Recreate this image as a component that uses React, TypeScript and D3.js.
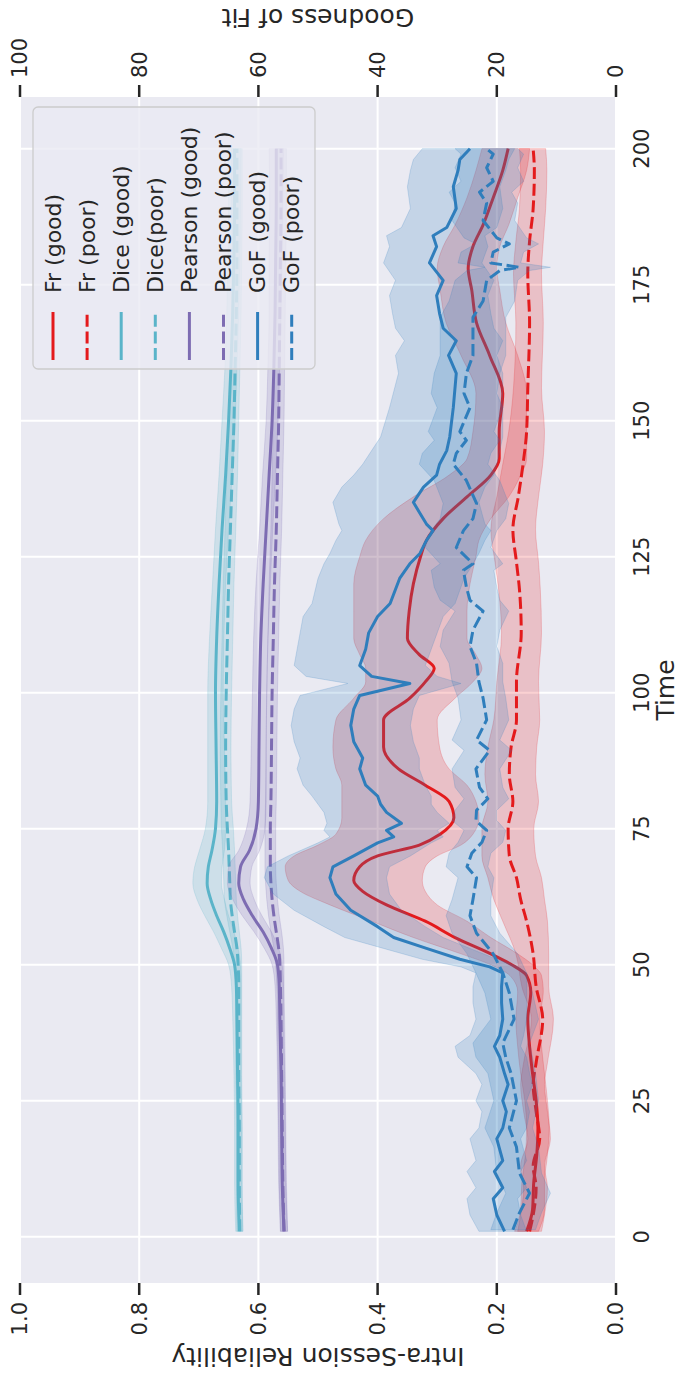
import React, { useEffect } from 'react'
import * as d3 from 'd3'

// values (time -> reliability, 0..1)

// Fr
const frGoodT = [1, 5, 10, 15, 20, 25, 30, 35, 40, 45, 48, 50, 52, 55, 58, 61, 63.5, 65.5, 68, 70, 72, 74, 77, 80, 83, 86, 90, 95, 99, 102, 104.5, 107, 110, 115, 120, 125, 128, 132, 136, 140, 143, 148, 155, 162, 168, 174, 178, 182, 186, 191, 196, 200]
const frGood = [0.150, 0.140, 0.138, 0.133, 0.131, 0.134, 0.140, 0.145, 0.148, 0.143, 0.150, 0.175, 0.210, 0.270, 0.320, 0.385, 0.425, 0.440, 0.430, 0.400, 0.330, 0.295, 0.272, 0.280, 0.320, 0.365, 0.390, 0.390, 0.346, 0.320, 0.305, 0.330, 0.350, 0.347, 0.340, 0.328, 0.318, 0.290, 0.250, 0.210, 0.196, 0.196, 0.190, 0.212, 0.234, 0.242, 0.248, 0.240, 0.223, 0.206, 0.190, 0.181]
const frGoodLo = [0.13, 0.12, 0.12, 0.115, 0.112, 0.115, 0.12, 0.125, 0.128, 0.122, 0.125, 0.14, 0.165, 0.21, 0.25, 0.30, 0.32, 0.325, 0.32, 0.30, 0.26, 0.24, 0.23, 0.235, 0.25, 0.28, 0.296, 0.30, 0.27, 0.24, 0.225, 0.235, 0.25, 0.25, 0.245, 0.235, 0.23, 0.21, 0.18, 0.16, 0.15, 0.15, 0.15, 0.165, 0.185, 0.195, 0.2, 0.195, 0.18, 0.165, 0.15, 0.145]
const frGoodHi = [0.17, 0.16, 0.158, 0.152, 0.15, 0.153, 0.16, 0.165, 0.168, 0.165, 0.178, 0.21, 0.26, 0.34, 0.41, 0.48, 0.53, 0.55, 0.555, 0.54, 0.50, 0.47, 0.46, 0.46, 0.46, 0.47, 0.475, 0.47, 0.44, 0.42, 0.42, 0.43, 0.44, 0.44, 0.44, 0.43, 0.42, 0.39, 0.34, 0.28, 0.25, 0.24, 0.235, 0.26, 0.285, 0.295, 0.3, 0.29, 0.27, 0.25, 0.235, 0.225]

const frPoorT = [1, 4, 9, 13, 18, 23, 28, 32, 40, 46, 52, 58, 62, 66, 70, 75, 80, 85, 90, 95, 102, 111, 119, 124, 130, 136, 142, 148, 156, 168, 177, 183, 189, 196, 200]
const frPoor = [0.145, 0.139, 0.134, 0.139, 0.128, 0.134, 0.139, 0.134, 0.123, 0.134, 0.139, 0.150, 0.160, 0.167, 0.179, 0.181, 0.173, 0.179, 0.176, 0.167, 0.167, 0.159, 0.162, 0.167, 0.173, 0.164, 0.156, 0.150, 0.148, 0.145, 0.148, 0.145, 0.139, 0.137, 0.139]
const frPoorLo = [0.125, 0.12, 0.115, 0.12, 0.11, 0.115, 0.12, 0.115, 0.105, 0.113, 0.113, 0.115, 0.12, 0.125, 0.135, 0.138, 0.13, 0.135, 0.133, 0.128, 0.13, 0.125, 0.127, 0.13, 0.135, 0.13, 0.123, 0.12, 0.125, 0.122, 0.125, 0.122, 0.118, 0.116, 0.118]
const frPoorHi = [0.165, 0.16, 0.155, 0.16, 0.148, 0.155, 0.16, 0.155, 0.142, 0.158, 0.168, 0.19, 0.205, 0.215, 0.225, 0.225, 0.215, 0.22, 0.215, 0.205, 0.2, 0.192, 0.197, 0.203, 0.21, 0.2, 0.19, 0.18, 0.172, 0.168, 0.172, 0.168, 0.162, 0.16, 0.162]

// Dice / Pearson share a time grid
const dpT = [1, 10, 20, 30, 40, 46, 50, 53, 56, 59, 62, 65, 68, 71, 75, 80, 90, 100, 110, 120, 130, 140, 150, 160, 170, 180, 190, 200]
const diceGood = [0.632, 0.634, 0.634, 0.635, 0.636, 0.637, 0.640, 0.648, 0.658, 0.670, 0.680, 0.686, 0.684, 0.678, 0.672, 0.670, 0.671, 0.672, 0.670, 0.666, 0.661, 0.655, 0.650, 0.646, 0.643, 0.641, 0.640, 0.640]
const diceGoodLo = [0.626, 0.628, 0.628, 0.629, 0.629, 0.629, 0.630, 0.634, 0.641, 0.650, 0.657, 0.662, 0.661, 0.657, 0.655, 0.655, 0.657, 0.659, 0.658, 0.655, 0.650, 0.644, 0.639, 0.636, 0.633, 0.631, 0.630, 0.629]
const diceGoodHi = [0.638, 0.640, 0.640, 0.641, 0.643, 0.645, 0.650, 0.662, 0.675, 0.690, 0.703, 0.710, 0.707, 0.699, 0.689, 0.685, 0.685, 0.685, 0.682, 0.677, 0.672, 0.666, 0.661, 0.656, 0.653, 0.651, 0.650, 0.651]
const dicePoor = [0.631, 0.632, 0.632, 0.633, 0.633, 0.633, 0.634, 0.636, 0.640, 0.644, 0.647, 0.648, 0.649, 0.650, 0.652, 0.654, 0.655, 0.654, 0.652, 0.650, 0.647, 0.644, 0.641, 0.639, 0.637, 0.636, 0.636, 0.636]
const dicePoorLo = [0.626, 0.627, 0.627, 0.628, 0.628, 0.628, 0.628, 0.629, 0.632, 0.635, 0.637, 0.638, 0.639, 0.640, 0.642, 0.645, 0.646, 0.645, 0.643, 0.641, 0.638, 0.635, 0.633, 0.631, 0.629, 0.628, 0.627, 0.627]
const dicePoorHi = [0.636, 0.637, 0.637, 0.638, 0.638, 0.638, 0.640, 0.643, 0.648, 0.653, 0.657, 0.658, 0.659, 0.660, 0.662, 0.663, 0.664, 0.663, 0.661, 0.659, 0.656, 0.653, 0.650, 0.647, 0.645, 0.644, 0.645, 0.645]
const pearsonGood = [0.557, 0.560, 0.561, 0.562, 0.564, 0.565, 0.568, 0.578, 0.592, 0.610, 0.625, 0.633, 0.630, 0.615, 0.604, 0.600, 0.599, 0.598, 0.596, 0.592, 0.587, 0.582, 0.577, 0.574, 0.572, 0.571, 0.570, 0.570]
const pearsonGoodLo = [0.551, 0.554, 0.555, 0.556, 0.558, 0.558, 0.560, 0.566, 0.578, 0.594, 0.607, 0.614, 0.611, 0.598, 0.589, 0.587, 0.587, 0.586, 0.584, 0.580, 0.576, 0.571, 0.567, 0.564, 0.562, 0.560, 0.559, 0.558]
const pearsonGoodHi = [0.563, 0.566, 0.567, 0.568, 0.570, 0.572, 0.577, 0.590, 0.607, 0.627, 0.643, 0.652, 0.650, 0.633, 0.620, 0.614, 0.612, 0.610, 0.608, 0.604, 0.598, 0.593, 0.587, 0.584, 0.582, 0.582, 0.581, 0.582]
const pearsonPoor = [0.557, 0.559, 0.560, 0.561, 0.562, 0.563, 0.564, 0.566, 0.570, 0.574, 0.577, 0.579, 0.580, 0.580, 0.580, 0.579, 0.578, 0.577, 0.575, 0.573, 0.570, 0.568, 0.566, 0.565, 0.564, 0.563, 0.562, 0.562]
const pearsonPoorLo = [0.551, 0.553, 0.554, 0.555, 0.556, 0.557, 0.557, 0.558, 0.561, 0.565, 0.568, 0.570, 0.571, 0.571, 0.571, 0.570, 0.569, 0.568, 0.566, 0.564, 0.561, 0.559, 0.557, 0.556, 0.555, 0.554, 0.553, 0.553]
const pearsonPoorHi = [0.563, 0.565, 0.566, 0.567, 0.568, 0.569, 0.571, 0.574, 0.579, 0.583, 0.586, 0.588, 0.589, 0.589, 0.589, 0.588, 0.587, 0.586, 0.584, 0.582, 0.579, 0.577, 0.575, 0.574, 0.573, 0.572, 0.571, 0.571]

// GoF (noisy)
const gofGoodT = [1, 4, 7, 9, 12, 14, 18, 20, 23, 25, 28, 30, 33, 35, 37, 40, 43, 46, 48.5, 49.6, 51, 53, 55, 57, 60, 63, 66, 68, 70, 72.4, 73.5, 74.7, 76, 78, 79.5, 81, 83, 86, 88, 91, 94, 97, 99.5, 101.7, 103, 105, 108, 111, 114, 116.4, 121, 123.7, 125.6, 128, 129.8, 131, 133, 135, 137.8, 140, 142, 144.5, 147, 152.4, 158.7, 162, 164.7, 167, 169.7, 173, 175.8, 179, 182, 184, 185.5, 189, 193, 196, 198, 200]
const gofGood = [0.187, 0.200, 0.206, 0.190, 0.204, 0.190, 0.200, 0.190, 0.184, 0.190, 0.181, 0.187, 0.195, 0.204, 0.195, 0.190, 0.192, 0.192, 0.190, 0.212, 0.262, 0.318, 0.373, 0.400, 0.445, 0.470, 0.480, 0.475, 0.440, 0.400, 0.373, 0.385, 0.360, 0.385, 0.395, 0.400, 0.420, 0.430, 0.425, 0.440, 0.445, 0.440, 0.430, 0.346, 0.410, 0.430, 0.420, 0.415, 0.400, 0.379, 0.363, 0.346, 0.329, 0.318, 0.307, 0.318, 0.329, 0.340, 0.323, 0.301, 0.296, 0.284, 0.279, 0.273, 0.268, 0.281, 0.268, 0.290, 0.296, 0.301, 0.290, 0.313, 0.301, 0.307, 0.284, 0.268, 0.273, 0.265, 0.262, 0.245]
const gofGoodLo = [0.15, 0.16, 0.165, 0.15, 0.16, 0.15, 0.16, 0.15, 0.145, 0.15, 0.14, 0.145, 0.15, 0.16, 0.155, 0.15, 0.15, 0.15, 0.15, 0.165, 0.2, 0.245, 0.29, 0.32, 0.36, 0.38, 0.385, 0.38, 0.345, 0.31, 0.29, 0.3, 0.28, 0.3, 0.31, 0.31, 0.32, 0.33, 0.33, 0.34, 0.345, 0.34, 0.33, 0.26, 0.3, 0.32, 0.31, 0.3, 0.29, 0.27, 0.255, 0.24, 0.23, 0.22, 0.21, 0.22, 0.225, 0.23, 0.22, 0.205, 0.2, 0.195, 0.19, 0.19, 0.19, 0.2, 0.19, 0.205, 0.21, 0.215, 0.205, 0.225, 0.215, 0.22, 0.2, 0.19, 0.195, 0.185, 0.18, 0.17]
const gofGoodHi = [0.23, 0.245, 0.25, 0.235, 0.25, 0.235, 0.245, 0.23, 0.225, 0.235, 0.225, 0.235, 0.265, 0.27, 0.245, 0.235, 0.24, 0.24, 0.235, 0.26, 0.325, 0.39, 0.455, 0.49, 0.54, 0.575, 0.59, 0.585, 0.55, 0.5, 0.48, 0.49, 0.485, 0.49, 0.5, 0.51, 0.525, 0.535, 0.53, 0.54, 0.545, 0.54, 0.53, 0.45, 0.52, 0.54, 0.535, 0.53, 0.525, 0.51, 0.5, 0.49, 0.48, 0.47, 0.46, 0.465, 0.47, 0.475, 0.46, 0.44, 0.425, 0.41, 0.395, 0.38, 0.365, 0.37, 0.355, 0.37, 0.375, 0.38, 0.37, 0.39, 0.38, 0.385, 0.36, 0.345, 0.35, 0.345, 0.34, 0.325]

const gofPoorT = [1.3, 4.4, 8, 11.7, 16.5, 20, 25, 30, 33, 35.6, 40, 44.8, 48.5, 52, 55.8, 59, 62, 66, 68, 70.5, 72.5, 74.7, 76.5, 78.4, 80.5, 82.6, 86, 89.4, 91.3, 95, 99, 102, 105.4, 108.5, 111.5, 115, 117, 119.4, 122.5, 123.7, 126.7, 129.8, 132, 134.8, 139, 142, 144, 146.4, 148, 152.4, 155, 158.7, 162, 164.7, 169, 172, 175.8, 177.6, 178.2, 179, 181, 182.5, 183.6, 186.8, 190, 192, 194, 196.5, 199, 200]
const gofPoor = [0.173, 0.162, 0.145, 0.162, 0.167, 0.179, 0.167, 0.176, 0.185, 0.190, 0.171, 0.179, 0.190, 0.206, 0.234, 0.245, 0.240, 0.234, 0.250, 0.242, 0.225, 0.217, 0.235, 0.234, 0.215, 0.229, 0.235, 0.212, 0.234, 0.217, 0.223, 0.230, 0.234, 0.245, 0.240, 0.223, 0.245, 0.251, 0.256, 0.240, 0.268, 0.256, 0.240, 0.234, 0.251, 0.273, 0.268, 0.251, 0.262, 0.245, 0.255, 0.251, 0.240, 0.240, 0.240, 0.223, 0.217, 0.195, 0.162, 0.210, 0.206, 0.179, 0.200, 0.223, 0.217, 0.229, 0.206, 0.217, 0.206, 0.217]
const gofPoorLo = [0.135, 0.125, 0.11, 0.125, 0.13, 0.14, 0.13, 0.135, 0.14, 0.145, 0.13, 0.14, 0.15, 0.165, 0.195, 0.21, 0.21, 0.205, 0.215, 0.21, 0.19, 0.185, 0.2, 0.2, 0.18, 0.19, 0.195, 0.175, 0.195, 0.18, 0.185, 0.19, 0.19, 0.2, 0.195, 0.18, 0.195, 0.2, 0.205, 0.19, 0.21, 0.2, 0.185, 0.18, 0.195, 0.215, 0.21, 0.195, 0.205, 0.19, 0.2, 0.195, 0.185, 0.185, 0.185, 0.17, 0.165, 0.145, 0.11, 0.16, 0.155, 0.13, 0.15, 0.17, 0.165, 0.175, 0.155, 0.165, 0.155, 0.165]
const gofPoorHi = [0.21, 0.2, 0.185, 0.2, 0.205, 0.22, 0.205, 0.215, 0.235, 0.24, 0.21, 0.22, 0.235, 0.25, 0.275, 0.285, 0.275, 0.265, 0.285, 0.28, 0.265, 0.255, 0.275, 0.27, 0.255, 0.27, 0.275, 0.255, 0.275, 0.26, 0.265, 0.275, 0.28, 0.295, 0.29, 0.27, 0.295, 0.305, 0.31, 0.295, 0.32, 0.31, 0.295, 0.29, 0.305, 0.33, 0.325, 0.305, 0.315, 0.3, 0.31, 0.305, 0.295, 0.295, 0.295, 0.28, 0.27, 0.25, 0.22, 0.265, 0.26, 0.235, 0.255, 0.275, 0.27, 0.28, 0.26, 0.27, 0.26, 0.27]

const timeTicks = [0, 25, 50, 75, 100, 125, 150, 175, 200]
const relTicks = [0, 0.2, 0.4, 0.6, 0.8, 1.0]
const gofTicks = [0, 20, 40, 60, 80, 100]

const RED = '#e41a1c'
const TEAL = '#5ab4c9'
const PURPLE = '#7d6cb2'
const BLUE = '#2f7ebc'

const series = [
  { name: 'Fr (good)', color: RED, dash: false, smooth: true, t: frGoodT, v: frGood, lo: frGoodLo, hi: frGoodHi },
  { name: 'Fr (poor)', color: RED, dash: true, smooth: true, t: frPoorT, v: frPoor, lo: frPoorLo, hi: frPoorHi },
  { name: 'Dice (good)', color: TEAL, dash: false, smooth: true, t: dpT, v: diceGood, lo: diceGoodLo, hi: diceGoodHi },
  { name: 'Dice(poor)', color: TEAL, dash: true, smooth: true, t: dpT, v: dicePoor, lo: dicePoorLo, hi: dicePoorHi },
  { name: 'Pearson (good)', color: PURPLE, dash: false, smooth: true, t: dpT, v: pearsonGood, lo: pearsonGoodLo, hi: pearsonGoodHi },
  { name: 'Pearson (poor)', color: PURPLE, dash: true, smooth: true, t: dpT, v: pearsonPoor, lo: pearsonPoorLo, hi: pearsonPoorHi },
  { name: 'GoF (good)', color: BLUE, dash: false, smooth: false, t: gofGoodT, v: gofGood, lo: gofGoodLo, hi: gofGoodHi },
  { name: 'GoF (poor)', color: BLUE, dash: true, smooth: false, t: gofPoorT, v: gofPoor, lo: gofPoorLo, hi: gofPoorHi },
]

// the figure is drawn landscape (1380 x 684) and turned a quarter to fit the page
const W = 1380
const FONT = 'DejaVu Sans, sans-serif'
const INK = '#262626'

const App = () => {
  useEffect(() => {
    document.body.style.margin = '0'
  }, [])

  const x = d3.scaleLinear().domain([-8.5, 209.5]).range([97, 1283])
  const y = d3.scaleLinear().domain([0, 1]).range([616, 20])
  const y2 = d3.scaleLinear().domain([0, 100]).range([616, 20])
  const [x0, x1] = x.range()
  const [yb, yt] = y.range()

  const dashArr = '12 4.6'

  return (
    <svg width={684} height={W} style={{ display: 'block' }} fontFamily={FONT}>
      <g transform={`translate(0,${W}) rotate(-90)`}>
        <rect x={x0} y={yt} width={x1 - x0} height={yb - yt} fill="#eaeaf2" />
        {timeTicks.map(t => (
          <line key={'gx' + t} x1={x(t)} x2={x(t)} y1={yt} y2={yb} stroke="#fff" strokeWidth={2} />
        ))}
        {relTicks.map(r => (
          <line key={'gy' + r} x1={x0} x2={x1} y1={y(r)} y2={y(r)} stroke="#fff" strokeWidth={2} />
        ))}

        {series.map(s => {
          const curve = s.smooth ? d3.curveMonotoneX : d3.curveLinear
          const area = d3.area<number>()
            .x((_, i) => x(s.t[i]))
            .y0((_, i) => y(s.lo[i]))
            .y1((_, i) => y(s.hi[i]))
            .curve(curve)
          const line = d3.line<number>()
            .x((_, i) => x(s.t[i]))
            .y(d => y(d))
            .curve(curve)
          return (
            <g key={s.name}>
              <path d={area(s.v) || ''} fill={s.color} fillOpacity={0.2} stroke={s.color} strokeOpacity={0.2} strokeWidth={1} />
              <path d={line(s.v) || ''} fill="none" stroke={s.color} strokeWidth={3}
                strokeDasharray={s.dash ? dashArr : undefined} strokeLinejoin="round" />
            </g>
          )
        })}

        {/* time axis (bottom of the landscape figure) */}
        {timeTicks.map(t => (
          <text key={'tx' + t} x={x(t)} y={yb + 33} textAnchor="middle" fontSize={21} fill={INK}>{t}</text>
        ))}
        <text x={(x0 + x1) / 2} y={674} textAnchor="middle" fontSize={25} fill={INK}>Time</text>

        {/* left axis */}
        {relTicks.map(r => (
          <g key={'ly' + r}>
            <line x1={x0 - 12} x2={x0} y1={y(r)} y2={y(r)} stroke={INK} strokeWidth={2.5} />
            <text x={x0 - 19} y={y(r)} dy="0.35em" textAnchor="end" fontSize={21} fill={INK}>{r.toFixed(1)}</text>
          </g>
        ))}
        <text transform={`translate(32,${(yt + yb) / 2}) rotate(-90)`} textAnchor="middle" fontSize={25} fill={INK}>
          Intra-Session Reliability
        </text>

        {/* right axis */}
        {gofTicks.map(g => (
          <g key={'ry' + g}>
            <line x1={x1} x2={x1 + 12} y1={y2(g)} y2={y2(g)} stroke={INK} strokeWidth={2.5} />
            <text x={x1 + 19} y={y2(g)} dy="0.35em" textAnchor="start" fontSize={21} fill={INK}>{g}</text>
          </g>
        ))}
        <text transform={`translate(1371,${(yt + yb) / 2}) rotate(-90)`} textAnchor="middle" fontSize={25} fill={INK}>
          Goodness of Fit
        </text>

        {/* legend */}
        <g>
          <rect x={1011} y={33} width={262} height={282} rx={5} fill="#eaeaf2" fillOpacity={0.8} stroke="#cccccc" strokeWidth={1.3} />
          {series.map((s, i) => {
            const cy = 53 + i * 34.1
            return (
              <g key={'lg' + s.name}>
                <line x1={1020} x2={1068} y1={cy} y2={cy} stroke={s.color} strokeWidth={3}
                  strokeDasharray={s.dash ? dashArr : undefined} />
                <text x={1087} y={cy} dy="0.35em" fontSize={22} fill={INK}>{s.name}</text>
              </g>
            )
          })}
        </g>
      </g>
    </svg>
  )
}

export default App
